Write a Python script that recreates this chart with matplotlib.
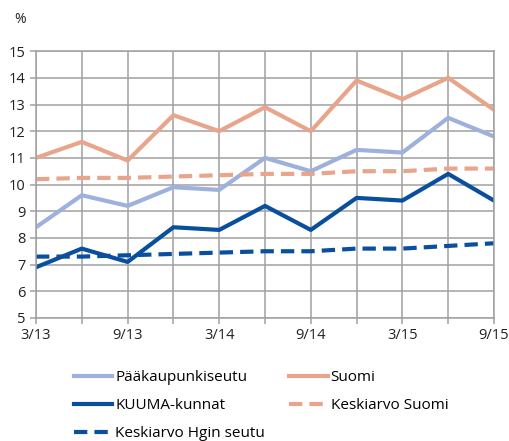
import numpy as np
import matplotlib
matplotlib.use('Agg')
from matplotlib import pyplot as plt

quarters = ['3/13', '6/13', '9/13', '12/13', '3/14', '6/14', '9/14', '12/14', '3/15', '6/15', '9/15']
paakaupunkiseutu = [8.4, 9.6, 9.2, 9.9, 9.8, 11.0, 10.5, 11.3, 11.2, 12.5, 11.8]
suomi = [11.0, 11.6, 10.9, 12.6, 12.0, 12.9, 12.0, 13.9, 13.2, 14.0, 12.8]
kuuma = [6.9, 7.6, 7.1, 8.4, 8.3, 9.2, 8.3, 9.5, 9.4, 10.4, 9.4]
ka_suomi = [10.2, 10.25, 10.25, 10.3, 10.35, 10.4, 10.4, 10.5, 10.5, 10.6, 10.6]
ka_hgin = [7.3, 7.3, 7.35, 7.4, 7.45, 7.5, 7.5, 7.6, 7.6, 7.7, 7.8]

plt.rcParams['font.family'] = ['Open Sans', 'DejaVu Sans']

c_paa = '#9eb0dc'
c_suomi = '#e8a58b'
c_kuuma = '#0a4f9e'

fig = plt.figure(figsize=(5.1, 4.41), dpi=100)
ax = fig.add_axes([0.0706, 0.279, 0.898, 0.605])

x = np.arange(len(quarters))
lw = 3.0
dash = (3.2, 1.7)
l1, = ax.plot(x, paakaupunkiseutu, color=c_paa, lw=lw, label='Pääkaupunkiseutu')
l2, = ax.plot(x, suomi, color=c_suomi, lw=lw, label='Suomi')
l3, = ax.plot(x, kuuma, color=c_kuuma, lw=lw, label='KUUMA-kunnat')
l4, = ax.plot(x, ka_suomi, color=c_suomi, lw=lw, dashes=dash, label='Keskiarvo Suomi')
l5, = ax.plot(x, ka_hgin, color=c_kuuma, lw=lw, dashes=dash, label='Keskiarvo Hgin seutu')

ax.set_xlim(0, len(quarters) - 1)
ax.set_ylim(5, 15)
ax.set_yticks(range(5, 16))
ax.set_xticks(x)
ax.set_xticklabels([q if i % 2 == 0 else '' for i, q in enumerate(quarters)])
ax.grid(True, color='#a0a0a0', lw=1.1)
ax.set_axisbelow(True)
for s in ax.spines.values():
    s.set_color('#a0a0a0')
    s.set_linewidth(1.1)
ax.tick_params(axis='both', colors='#a0a0a0', labelcolor='#222222', labelsize=10.5, length=4, width=1.1)
ax.tick_params(axis='x', pad=3)

fig.text(0.027, 0.955, '%', fontsize=10, color='#222222', va='center')

fig.legend([l1, l3, l5, l2, l4],
           [h.get_label() for h in [l1, l3, l5, l2, l4]],
           ncol=2, loc='upper left', bbox_to_anchor=(0.13, 0.178),
           frameon=False, fontsize=11, handlelength=2.5, handletextpad=0.2,
           columnspacing=1.6, labelspacing=0.85, borderpad=0)

fig.savefig('out.png', dpi=100)
